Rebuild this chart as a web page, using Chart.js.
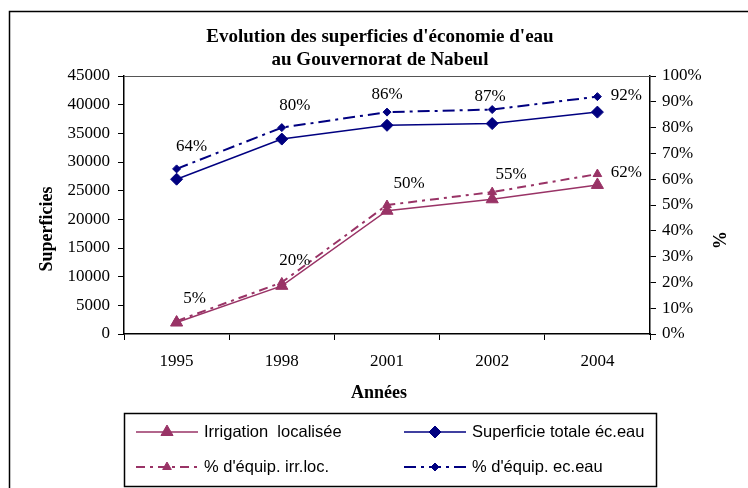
<!DOCTYPE html>
<html>
<head>
<meta charset="utf-8">
<script src="https://cdn.jsdelivr.net/npm/chart.js@4/dist/chart.umd.min.js"></script>
<style>
  html, body { margin: 0; padding: 0; background: #fff; }
  #wrap { width: 748px; height: 488px; }
</style>
</head>
<body>
<div id="wrap"><canvas id="chart" width="748" height="488"></canvas></div>
<script>
const years = ["1995", "1998", "2001", "2002", "2004"]
const irrigation = [2000, 8400, 21500, 23500, 26000]
const superficie = [27000, 34000, 36400, 36700, 38700]
const pctIrr = [5, 20, 50, 55, 62]
const pctEc = [64, 80, 86, 87, 92]
const leftTicks = [0, 5000, 10000, 15000, 20000, 25000, 30000, 35000, 40000, 45000]
const rightTicks = [0, 10, 20, 30, 40, 50, 60, 70, 80, 90, 100]

// where each percent label sits relative to its point (manual placement like the original)
const ecLabelOffsets = [[15, -22], [13, -22], [0, -18], [-2, -13], [29, -1]]
const irrLabelOffsets = [[18, -23], [13, -22], [22, -21], [19, -18], [29, -2]]

const PLUM = "#993366"
const NAVY = "#000080"
const SERIF = "'Liberation Serif', 'Times New Roman', serif"
const SANS = "'Liberation Sans', Arial, sans-serif"

const decorations = {
  id: "decorations",
  afterDraw(chart) {
    const ctx = chart.ctx
    const area = chart.chartArea
    ctx.save()

    // outer frame (runs off the right and bottom of the picture)
    ctx.strokeStyle = "#000"
    ctx.lineWidth = 1.5
    ctx.beginPath()
    ctx.moveTo(9.5, 500)
    ctx.lineTo(9.5, 11.5)
    ctx.lineTo(760, 11.5)
    ctx.stroke()

    // top edge of the plot box
    ctx.lineWidth = 1
    ctx.strokeStyle = "#555"
    ctx.beginPath()
    ctx.moveTo(area.left, area.top + 0.5)
    ctx.lineTo(area.right, area.top + 0.5)
    ctx.stroke()

    // title
    ctx.fillStyle = "#000"
    ctx.textAlign = "center"
    ctx.textBaseline = "middle"
    ctx.font = "bold 19px " + SERIF
    ctx.fillText("Evolution des superficies d'économie d'eau", 380, 37)
    ctx.fillText("au Gouvernorat de Nabeul", 380, 60)

    // axis titles
    ctx.font = "bold 18px " + SERIF
    ctx.fillText("Années", 379, 393)
    ctx.save()
    ctx.translate(47, 229)
    ctx.rotate(-Math.PI / 2)
    ctx.fillText("Superficies", 0, 0)
    ctx.restore()
    ctx.save()
    ctx.translate(718, 240)
    ctx.rotate(Math.PI / 2)
    ctx.fillText("%", 0, 0)
    ctx.restore()

    // percent labels
    ctx.font = "17px " + SERIF
    const labelSets = [[2, irrLabelOffsets], [3, ecLabelOffsets]]
    labelSets.forEach(([di, offs]) => {
      const meta = chart.getDatasetMeta(di)
      const data = chart.data.datasets[di].data
      meta.data.forEach((pt, i) => {
        ctx.fillText(data[i] + "%", pt.x + offs[i][0], pt.y + offs[i][1])
      })
    })

    // legend box
    ctx.strokeStyle = "#000"
    ctx.lineWidth = 1.5
    ctx.strokeRect(124.5, 413.5, 532, 73)
    const slots = [
      { x1: 136, x2: 198, y: 432 },
      { x1: 404, x2: 466, y: 432 },
      { x1: 136, x2: 198, y: 467 },
      { x1: 404, x2: 466, y: 467 }
    ]
    ctx.font = "16.5px " + SANS
    ctx.textAlign = "left"
    chart.data.datasets.forEach((ds, i) => {
      const s = slots[i]
      ctx.strokeStyle = ds.borderColor
      ctx.fillStyle = ds.backgroundColor
      ctx.lineWidth = ds.borderWidth
      ctx.setLineDash(ds.borderDash || [])
      ctx.beginPath()
      ctx.moveTo(s.x1, s.y)
      ctx.lineTo(s.x2, s.y)
      ctx.stroke()
      ctx.setLineDash([])
      ctx.lineWidth = 1
      Chart.helpers.drawPoint(ctx, {
        pointStyle: ds.pointStyle,
        radius: ds.pointRadius,
        borderWidth: 1
      }, (s.x1 + s.x2) / 2, s.y)
      ctx.fillStyle = "#000"
      ctx.fillText(ds.label, s.x2 + 6, s.y)
    })
    ctx.restore()
  }
}

const ctx = document.getElementById("chart")

new Chart(ctx, {
  type: "line",
  data: {
    labels: years,
    datasets: [
      {
        label: "Irrigation  localisée",
        data: irrigation,
        yAxisID: "y",
        borderColor: PLUM,
        backgroundColor: PLUM,
        borderWidth: 1.5,
        pointStyle: "triangle",
        pointRadius: 7,
        pointBorderWidth: 1
      },
      {
        label: "Superficie totale éc.eau",
        data: superficie,
        yAxisID: "y",
        borderColor: NAVY,
        backgroundColor: NAVY,
        borderWidth: 1.5,
        pointStyle: "rectRot",
        pointRadius: 6,
        pointBorderWidth: 1
      },
      {
        label: "% d'équip. irr.loc.",
        data: pctIrr,
        yAxisID: "y1",
        borderColor: PLUM,
        backgroundColor: PLUM,
        borderWidth: 2,
        borderDash: [9, 5, 3, 5],
        pointStyle: "triangle",
        pointRadius: 5,
        pointBorderWidth: 1
      },
      {
        label: "% d'équip. ec.eau",
        data: pctEc,
        yAxisID: "y1",
        borderColor: NAVY,
        backgroundColor: NAVY,
        borderWidth: 2,
        borderDash: [12, 5, 3, 5],
        pointStyle: "rectRot",
        pointRadius: 4,
        pointBorderWidth: 1
      }
    ]
  },
  options: {
    responsive: false,
    animation: false,
    layout: { padding: { top: 76, bottom: 114, left: 0, right: 0 } },
    plugins: {
      legend: { display: false },
      title: { display: false },
      tooltip: { enabled: false }
    },
    elements: { line: { tension: 0 } },
    scales: {
      x: {
        offset: true,
        grid: { offset: true, drawOnChartArea: false, tickLength: 6, color: "#000" },
        border: { color: "#000", width: 1.5 },
        ticks: { color: "#000", padding: 11, font: { family: SERIF, size: 17 } },
        afterFit(scale) { scale.height = 40 }
      },
      y: {
        position: "left",
        min: 0,
        max: 45000,
        afterBuildTicks(scale) { scale.ticks = leftTicks.map(v => ({ value: v })) },
        grid: { drawOnChartArea: false, tickLength: 6, color: "#000" },
        border: { color: "#000", width: 1.5 },
        ticks: {
          color: "#000",
          padding: 8,
          font: { family: SERIF, size: 17 },
          callback: v => String(v)
        },
        afterFit(scale) { scale.width = 124 }
      },
      y1: {
        position: "right",
        min: 0,
        max: 100,
        afterBuildTicks(scale) { scale.ticks = rightTicks.map(v => ({ value: v })) },
        grid: { drawOnChartArea: false, tickLength: 6, color: "#000" },
        border: { color: "#000", width: 1.5 },
        ticks: {
          color: "#000",
          padding: 6,
          font: { family: SERIF, size: 17 },
          callback: v => v + "%"
        },
        afterFit(scale) { scale.width = 98 }
      }
    }
  },
  plugins: [decorations]
})
</script>
</body>
</html>
